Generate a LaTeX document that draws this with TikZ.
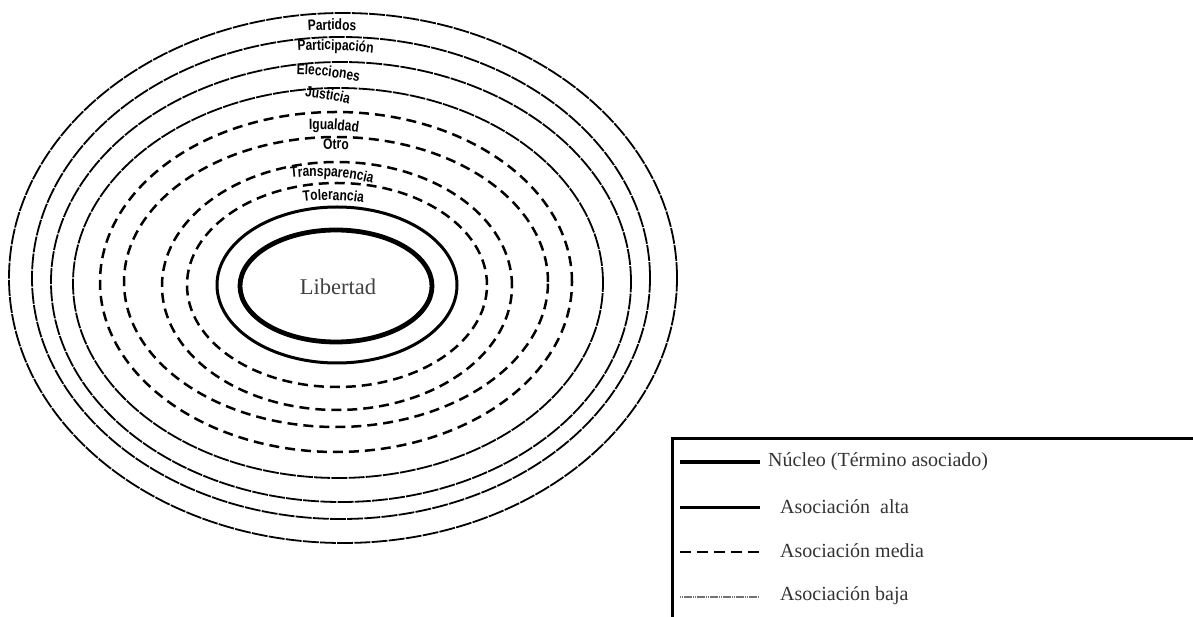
\documentclass[tikz,border=0pt]{standalone}
\usepackage{fontspec}
\setmainfont{Liberation Serif}
\newfontfamily\labfamily[FakeStretch=0.8]{Liberation Sans}
\usetikzlibrary{decorations.text}
\newcommand\labf{\labfamily\bfseries\fontsize{15}{15}\selectfont}
% cx cy rx ry startangle endangle text
\newcommand\arclab[7]{\path[shift={(#1,#2)},decorate,decoration={text along path,text align=center,text={|\labf|#7}}] (#5:#3 and #4) arc[start angle=#5,end angle=#6,x radius=#3,y radius=#4];}
\tikzset{
  nucleo/.style={line width=4.8pt},
  alta/.style={line width=3pt},
  media/.style={line width=2.5pt,dash pattern=on 10pt off 6pt},
  baja/.style={line width=1.8pt,dash pattern=on 16pt off 1.2pt},
  bajaleg/.style={line width=1.2pt,black!55,dash pattern=on 1pt off 1pt on 1pt off 1pt on 8pt off 1pt},
  legtext/.style={anchor=west,inner sep=0pt,text=black!80,font=\fontsize{20}{20}\selectfont},
}
\begin{document}
\begin{tikzpicture}[x=1pt,y=1pt]
\useasboundingbox (0,0) rectangle (1193,616);
% rings
\draw[baja] (343,338) ellipse[x radius=334,y radius=265];
\draw[baja] (341,338) ellipse[x radius=309,y radius=241];
\draw[baja] (341,334) ellipse[x radius=290,y radius=220];
\draw[baja] (338,333) ellipse[x radius=265,y radius=195];
\draw[media] (336,334) ellipse[x radius=236,y radius=170];
\draw[media] (336,334) ellipse[x radius=212,y radius=145];
\draw[media] (337,330) ellipse[x radius=175,y radius=124];
\draw[media] (337,331) ellipse[x radius=150,y radius=102];
\draw[alta] (337,331) ellipse[x radius=120,y radius=78];
\draw[nucleo] (336,330) ellipse[x radius=96,y radius=56];
% labels
\node[text=black!75,font=\fontsize{22.5}{22.5}\selectfont] (lib) at (338,329) {Libertad};
\arclab{332}{333}{321}{253}{120}{60}{Partidos}
\arclab{325.5}{336}{300}{230}{118}{58}{Participación}
\arclab{287}{334.6}{277}{207}{111}{51}{Elecciones}
\arclab{270}{339.4}{250}{182}{106}{46}{Justicia}
\arclab{315.5}{328.6}{224}{158}{115}{55}{Igualdad}
\arclab{336}{332}{194}{135}{120}{60}{Otro}
\arclab{316}{326.6}{162}{113}{114}{54}{Transparencia}
\arclab{329}{326}{135}{90}{118}{58}{Tolerancia}
% legend box
\coordinate (boxTR) at (1200,178);
\coordinate (boxTL) at (672,178);
\coordinate (boxBL) at (672,-5);
\draw[line width=3pt] (boxTR) -- (boxTL) -- (boxBL);
\coordinate (l1a) at (680,154); \coordinate (l1b) at (760,154);
\coordinate (l2a) at (680,109); \coordinate (l2b) at (760,109);
\coordinate (l3a) at (680,64);  \coordinate (l3b) at (760,64);
\coordinate (l4a) at (680,19);  \coordinate (l4b) at (760,19);
\draw[nucleo] (l1a) -- (l1b);
\draw[alta] (l2a) -- (l2b);
\draw[line width=2.5pt,dash pattern=on 11pt off 6pt] (l3a) -- (l3b);
\draw[bajaleg] (l4a) -- (l4b);
\node[legtext] (t1) at (768,154) {Núcleo (Término asociado)};
\node[legtext] (t2) at (780,109) {Asociación\ \ alta};
\node[legtext] (t3) at (780,65) {Asociación media};
\node[legtext] (t4) at (780,20) {Asociación baja};
\end{tikzpicture}
\end{document}
